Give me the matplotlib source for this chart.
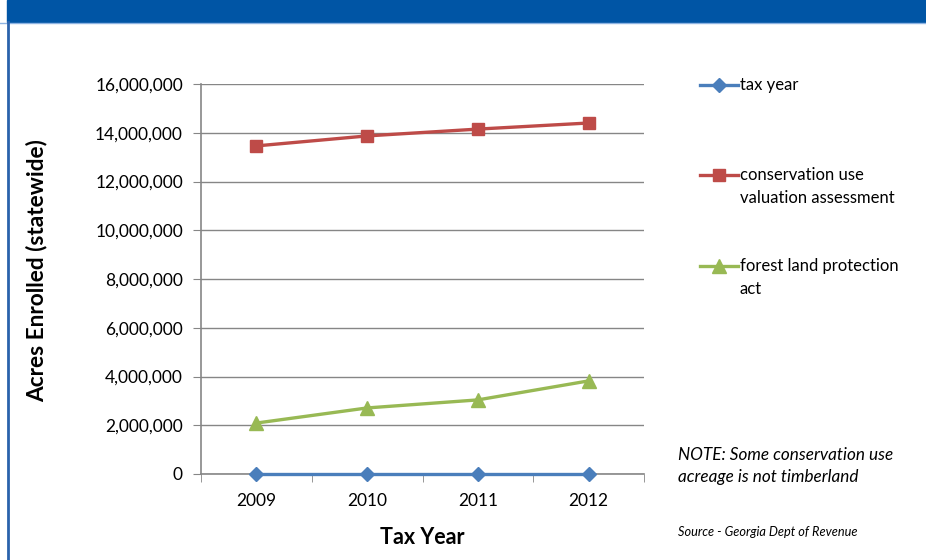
import matplotlib.pyplot as plt
from matplotlib.lines import Line2D
from matplotlib.patches import Rectangle
from matplotlib.ticker import FuncFormatter, FixedLocator

years = ["2009", "2010", "2011", "2012"]
tax_year = [2009, 2010, 2011, 2012]
cuva = [13460000, 13870000, 14150000, 14400000]
flpa = [2090000, 2710000, 3040000, 3820000]

series_labels = ["tax year", "conservation use\nvaluation assessment", "forest land protection\nact"]

BLUE = "#4A7EBB"
RED = "#BE4B48"
GREEN = "#98B954"
GRID = "#868686"
W, H = 926, 560

plt.rcParams["font.family"] = ["Lato", "DejaVu Sans"]

fig = plt.figure(figsize=(W / 100, H / 100), dpi=100)


def fx(px):
    return px / W


def fy(py):
    return 1 - py / H


# header bar and left border
fig.patches.append(Rectangle((fx(7), fy(22)), 1, 22 / H, transform=fig.transFigure,
                             color="#0055A5", zorder=0))
fig.lines.append(Line2D([0, 1], [fy(23), fy(23)], transform=fig.transFigure,
                        color="#8DB3E2", lw=1))
fig.lines.append(Line2D([fx(8), fx(8)], [0, fy(22)], transform=fig.transFigure,
                        color="#2A62AB", lw=2))

ax = fig.add_axes([fx(201), fy(474), 443 / W, 390 / H])
x = list(range(len(years)))

styles = [(tax_year, BLUE, "D", 7), (cuva, RED, "s", 8), (flpa, GREEN, "^", 10)]
for vals, col, mk, ms in styles:
    ax.plot(x, vals, color=col, lw=2.4, marker=mk, ms=ms, clip_on=False, zorder=3)

ax.set_xlim(-0.5, 3.5)
ax.set_ylim(0, 16000000)
ax.set_yticks(range(0, 16000001, 2000000))
ax.yaxis.set_major_formatter(FuncFormatter(lambda v, p: f"{int(v):,}"))
ax.set_xticks(x)
ax.set_xticklabels(years)
ax.xaxis.set_minor_locator(FixedLocator([-0.5, 0.5, 1.5, 2.5, 3.5]))
ax.tick_params(axis="x", which="major", length=0, labelsize=12.5, pad=14)
ax.tick_params(axis="x", which="minor", length=6, color=GRID, direction="out")
ax.tick_params(axis="y", length=6, color=GRID, labelsize=12.5, pad=7)

ax.grid(axis="y", color=GRID, lw=1)
ax.set_axisbelow(True)
for s in ["top", "right"]:
    ax.spines[s].set_visible(False)
for s in ["left", "bottom"]:
    ax.spines[s].set_color(GRID)
    ax.spines[s].set_linewidth(1.2)

ax.set_xlabel("Tax Year", fontsize=15.5, fontweight="bold", labelpad=13)
fig.text(fx(37), fy(271), "Acres Enrolled (statewide)", fontsize=16.3, fontweight="bold",
         rotation=90, ha="center", va="center")

# legend drawn by hand so the spacing follows the reference
legend_rows = [85, 175, 266]
for (vals, col, mk, ms), lab, row in zip(styles, series_labels, legend_rows):
    fig.lines.append(Line2D([fx(700), fx(738)], [fy(row), fy(row)], transform=fig.transFigure,
                            color=col, lw=2.4))
    fig.lines.append(Line2D([fx(719)], [fy(row)], transform=fig.transFigure,
                            color=col, marker=mk, ms=ms))
    fig.text(fx(740), fy(row - 8), lab, fontsize=12, va="top", ha="left", linespacing=1.55)

fig.text(fx(678), fy(466), "NOTE: Some conservation use\nacreage is not timberland",
         fontsize=12.3, style="italic", va="center", linespacing=1.45)
fig.text(fx(678), fy(532), "Source - Georgia Dept of Revenue",
         fontsize=9.2, style="italic", va="center")

fig.savefig("out.png", dpi=100)
